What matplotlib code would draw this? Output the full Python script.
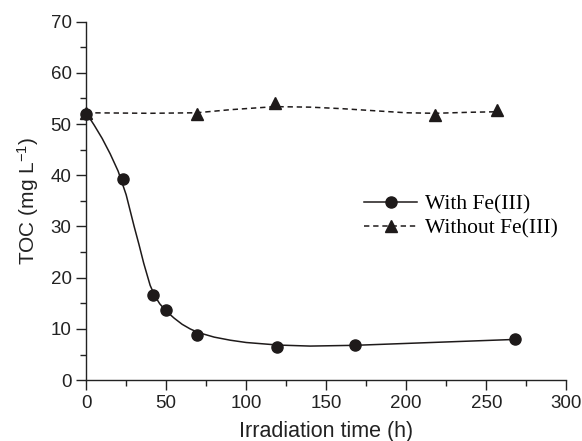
import matplotlib
matplotlib.use("Agg")
import matplotlib.pyplot as plt
from matplotlib.lines import Line2D
from matplotlib.ticker import MultipleLocator

plt.rcParams['mathtext.fontset'] = 'custom'
plt.rcParams['mathtext.rm'] = 'Liberation Sans'
plt.rcParams['mathtext.it'] = 'Liberation Sans'
plt.rcParams['axes.unicode_minus'] = False

# measured points
t_fe = [0, 23, 42, 50, 69, 119, 168, 268]
toc_fe = [52.0, 39.3, 16.6, 13.7, 8.8, 6.5, 6.9, 8.0]
t_nofe = [0, 69, 118, 218, 257]
toc_nofe = [52.2, 52.0, 54.2, 51.8, 52.7]

# smoothed guide curves
curve_fe_t = [0, 5, 10, 15, 20, 25, 30, 33, 36, 40, 43, 46, 50, 55, 60, 65, 70, 80, 90, 100, 120, 140, 168, 268]
curve_fe_v = [52.2, 49.8, 47.2, 44.2, 40.8, 36.2, 30.0, 26.5, 22.8, 18.5, 16.4, 14.9, 13.5, 12.1, 10.9, 10.0, 9.3, 8.4, 7.8, 7.35, 6.85, 6.65, 6.8, 7.95]
curve_nofe_t = [0, 40, 69, 90, 118, 140, 160, 180, 200, 218, 240, 257]
curve_nofe_v = [52.2, 52.1, 52.2, 52.8, 53.4, 53.3, 53.0, 52.6, 52.2, 52.1, 52.3, 52.4]

fig = plt.figure(figsize=(5.82, 4.41), dpi=100)
ax = fig.add_axes([0.148, 0.138, 0.825, 0.813])

c = '#1e1a1a'
ax.plot(curve_fe_t, curve_fe_v, color=c, lw=1.1)
ax.plot(curve_nofe_t, curve_nofe_v, color=c, lw=1.1, ls=(0, (3.5, 2.5)))
ax.plot(t_fe, toc_fe, 'o', color=c, ms=8, clip_on=False, zorder=3)
ax.plot(t_nofe, toc_nofe, '^', color=c, ms=9, clip_on=False, zorder=3)

ax.set_xlim(0, 300)
ax.set_ylim(0, 70)
ax.xaxis.set_major_locator(MultipleLocator(50))
ax.xaxis.set_minor_locator(MultipleLocator(25))
ax.yaxis.set_major_locator(MultipleLocator(10))
ax.yaxis.set_minor_locator(MultipleLocator(5))
ax.tick_params(which='major', direction='out', length=7, width=1, labelsize=13.5, colors='#222222')
ax.tick_params(which='minor', direction='out', length=4, width=1, colors='#222222')
for s in ['top', 'right']:
    ax.spines[s].set_visible(False)
for s in ['left', 'bottom']:
    ax.spines[s].set_linewidth(1)
    ax.spines[s].set_color('#222222')
for lab in ax.get_xticklabels() + ax.get_yticklabels():
    lab.set_family('Liberation Sans')

ax.set_xlabel('Irradiation time (h)', fontsize=15.5, family='Liberation Sans', labelpad=7, color='#222222')
ax.set_ylabel('TOC (mg L$^{-1}$)', fontsize=15, family='Liberation Sans', labelpad=7, color='#222222')

handles = [Line2D([], [], color=c, lw=1.1, marker='o', ms=8),
           Line2D([], [], color=c, lw=1.1, ls=(0, (3.5, 2.5)), marker='^', ms=9)]
ax.legend(handles, ['With Fe(III)', 'Without Fe(III)'], loc='upper left',
          bbox_to_anchor=(0.539, 0.572), frameon=False, handlelength=2.45,
          handletextpad=0.37, labelspacing=0.2,
          prop={'family': 'Liberation Serif', 'size': 15.5})

fig.savefig('out.png', dpi=100)
